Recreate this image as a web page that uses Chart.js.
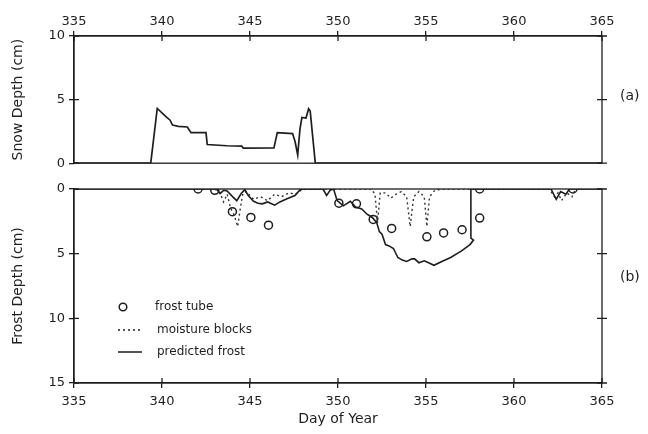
<!DOCTYPE html>
<html>
<head>
<meta charset="utf-8">
<script src="https://cdn.jsdelivr.net/npm/chart.js@4.4.1/dist/chart.umd.min.js"></script>
<style>
  html, body { margin: 0; padding: 0; background: #fff; }
  #wrap { position: relative; width: 648px; height: 434px; }
  #snowChart { position: absolute; left: 0; top: 0; }
  #frostChart { position: absolute; left: 0; top: 175px; }
</style>
</head>
<body>
<div id="wrap">
  <canvas id="snowChart" width="648" height="175"></canvas>
  <canvas id="frostChart" width="648" height="259"></canvas>
</div>
<script>
// day-of-year axis
const dayTicks = [335, 340, 345, 350, 355, 360, 365];

// (a) snow depth, cm
const snowDays  = [335, 339.36, 339.73, 340.27, 340.45, 340.6, 340.93, 341.44, 341.65, 342.5, 342.57, 343.68, 344.53, 344.62, 346.36, 346.55, 347.42, 347.56, 347.71, 347.84, 347.95, 348.18, 348.33, 348.42, 348.71, 365];
const snowDepth = [0, 0, 4.3, 3.6, 3.4, 3.0, 2.9, 2.85, 2.4, 2.4, 1.47, 1.37, 1.34, 1.18, 1.2, 2.4, 2.33, 1.7, 0.65, 2.7, 3.6, 3.55, 4.28, 4.1, 0, 0];

// (b) frost tube observations, cm
const tubeDays  = [342.05, 343.0, 344.0, 345.05, 346.05, 350.05, 351.05, 352.0, 353.05, 355.05, 356.0, 357.05, 358.05, 358.05, 363.35];
const tubeDepth = [0, 0.1, 1.75, 2.2, 2.8, 1.1, 1.15, 2.35, 3.05, 3.7, 3.4, 3.15, 2.25, 0, 0];

// (b) moisture blocks, cm
const blockDays  = [343.0, 343.3, 343.5, 343.7, 343.9, 344.1, 344.3, 344.45, 344.6, 344.8, 345.2, 345.6, 346.0, 346.4, 346.8, 347.2, 347.6, 347.9, 348.2,
                    351.9, 352.1, 352.25, 352.4, 352.7, 353.0, 353.3, 353.6, 353.9, 354.1, 354.3, 354.6, 354.9, 355.05, 355.2, 355.5, 356.0,
                    362.0, 362.3, 362.5, 362.7, 363.0, 363.3, 363.5];
const blockDepth = [0, 0.3, 1.0, 0.4, 1.5, 2.0, 2.9, 1.5, 0.3, 0.2, 0.8, 0.6, 0.9, 0.4, 0.6, 0.3, 0.4, 0.1, 0,
                    0, 0.4, 2.6, 0.3, 0.3, 0.7, 0.4, 0.2, 0.6, 2.9, 0.6, 0.2, 0.6, 2.9, 0.6, 0.1, 0,
                    0, 0.6, 0.3, 0.9, 0.3, 0.6, 0];

// (b) predicted frost, cm
const frostDays  = [335, 343.1, 343.3, 343.5, 343.7, 344.05, 344.25, 344.5, 344.7, 344.9, 345.2, 345.45, 345.7, 346.0, 346.4, 346.7, 347.1, 347.55, 347.85, 348.0,
                    349.15, 349.35, 349.55, 349.75, 349.95, 350.3, 350.7, 351.0, 351.35, 351.65, 351.95, 352.2, 352.35, 352.5, 352.7, 352.9, 353.15, 353.4, 353.65,
                    353.9, 354.2, 354.35, 354.6, 354.9, 355.15, 355.45, 355.9, 356.4, 357.0, 357.5, 357.7, 357.55, 357.55,
                    362.1, 362.4, 362.65, 362.95, 363.15, 365];
const frostDepth = [0, 0, 0.35, 0.1, 0.15, 0.65, 0.9, 0.35, 0.05, 0.5, 0.95, 1.1, 1.15, 1.0, 1.25, 1.0, 0.75, 0.5, 0.05, 0,
                    0, 0.5, 0.1, 0, 0.9, 1.3, 0.95, 1.4, 1.55, 1.95, 2.2, 2.6, 3.3, 3.5, 4.3, 4.4, 4.6, 5.3, 5.5,
                    5.6, 5.4, 5.4, 5.7, 5.55, 5.7, 5.9, 5.6, 5.3, 4.8, 4.3, 3.95, 3.8, 0,
                    0, 0.8, 0.2, 0.4, 0, 0];

const ink = '#1e1e1e';
const fontFamily = '"DejaVu Sans", sans-serif';

function pts(xs, ys) {
  return xs.map((x, i) => ({ x: x, y: ys[i] }));
}

// box round the plot, ticks that cross the frame, panel tag, optional key
const framePlugin = {
  id: 'frame',
  afterDraw(chart, args, opts) {
    const { ctx, chartArea: a, scales } = chart;
    ctx.save();
    ctx.strokeStyle = ink;
    ctx.lineWidth = 1.3;
    ctx.strokeRect(a.left, a.top, a.right - a.left, a.bottom - a.top);

    ctx.beginPath();
    const xs = scales.x;
    const edge = opts.xEdge === 'top' ? a.top : a.bottom;
    const dir = opts.xEdge === 'top' ? 1 : -1;
    xs.ticks.forEach(t => {
      const px = xs.getPixelForValue(t.value);
      ctx.moveTo(px, edge);
      ctx.lineTo(px, edge + dir * 5);
    });
    const ys = scales.y;
    ys.ticks.forEach(t => {
      const py = ys.getPixelForValue(t.value);
      ctx.moveTo(a.left, py);
      ctx.lineTo(a.left + 5, py);
      ctx.moveTo(a.right - 5, py);
      ctx.lineTo(a.right + 5, py);
    });
    ctx.stroke();

    ctx.fillStyle = ink;
    ctx.font = '14px ' + fontFamily;
    ctx.textAlign = 'left';
    ctx.textBaseline = 'middle';
    ctx.fillText(opts.tag, a.right + 18, opts.tagY);

    if (opts.key) {
      const kx = a.left + 44;
      let ky = opts.keyY;
      ctx.font = '12px ' + fontFamily;
      ctx.lineWidth = 1.5;
      // frost tube
      ctx.beginPath();
      ctx.arc(kx + 5, ky, 3.8, 0, Math.PI * 2);
      ctx.stroke();
      ctx.fillText('frost tube', kx + 37, ky);
      // moisture blocks
      ky += 23;
      ctx.setLineDash([2, 3]);
      ctx.beginPath();
      ctx.moveTo(kx, ky);
      ctx.lineTo(kx + 24, ky);
      ctx.stroke();
      ctx.setLineDash([]);
      ctx.fillText('moisture blocks', kx + 39, ky);
      // predicted frost
      ky += 22;
      ctx.beginPath();
      ctx.moveTo(kx, ky);
      ctx.lineTo(kx + 24, ky);
      ctx.stroke();
      ctx.fillText('predicted frost', kx + 39, ky);
    }
    ctx.restore();
  }
};

Chart.defaults.font.family = fontFamily;
Chart.defaults.color = ink;

function xScale(position, withTitle) {
  return {
    type: 'linear',
    position: position,
    min: 335,
    max: 365,
    afterBuildTicks: s => { s.ticks = dayTicks.map(v => ({ value: v })); },
    afterFit: s => { s.height = position === 'top' ? 36 : 51; },
    grid: { drawOnChartArea: false, tickLength: 5, color: ink, lineWidth: 1.3 },
    border: { color: ink, width: 1.3 },
    ticks: { font: { size: 13 }, padding: position === 'top' ? 2 : 6, maxRotation: 0, color: ink },
    title: {
      display: withTitle,
      text: 'Day of Year',
      font: { size: 14 },
      color: ink,
      padding: { top: 0, bottom: 6 }
    }
  };
}

function yScale(max, reverse, label) {
  return {
    type: 'linear',
    min: 0,
    max: max,
    reverse: reverse,
    afterFit: s => { s.width = 74; },
    ticks: { stepSize: 5, font: { size: 13 }, padding: 4, color: ink },
    grid: { drawOnChartArea: false, tickLength: 5, color: ink, lineWidth: 1.3 },
    border: { color: ink, width: 1.3 },
    title: {
      display: true,
      text: label,
      font: { size: 14 },
      color: ink,
      padding: { top: 10, bottom: 0 }
    }
  };
}

new Chart(document.getElementById('snowChart'), {
  type: 'line',
  data: {
    datasets: [{
      label: 'snow depth',
      data: pts(snowDays, snowDepth),
      borderColor: ink,
      borderWidth: 1.7,
      pointRadius: 0,
      tension: 0
    }]
  },
  options: {
    responsive: false,
    animation: false,
    layout: { padding: { left: 0, right: 46, top: 0, bottom: 10 } },
    plugins: {
      legend: { display: false },
      tooltip: { enabled: false },
      frame: { tag: '(a)', tagY: 96, xEdge: 'top' }
    },
    scales: {
      x: xScale('top', false),
      y: yScale(10, false, 'Snow Depth (cm)')
    }
  },
  plugins: [framePlugin]
});

new Chart(document.getElementById('frostChart'), {
  type: 'line',
  data: {
    datasets: [
      {
        label: 'predicted frost',
        data: pts(frostDays, frostDepth),
        borderColor: ink,
        borderWidth: 1.6,
        pointRadius: 0,
        tension: 0
      },
      {
        label: 'moisture blocks',
        data: pts(blockDays, blockDepth),
        borderColor: '#333',
        borderWidth: 1.4,
        borderDash: [2, 3],
        pointRadius: 0,
        tension: 0
      },
      {
        label: 'frost tube',
        data: pts(tubeDays, tubeDepth),
        showLine: false,
        pointRadius: 4,
        pointBorderWidth: 1.5,
        pointBorderColor: ink,
        pointBackgroundColor: '#fff'
      }
    ]
  },
  options: {
    responsive: false,
    animation: false,
    layout: { padding: { left: 0, right: 46, top: 14, bottom: 0 } },
    plugins: {
      legend: { display: false },
      tooltip: { enabled: false },
      frame: { tag: '(b)', tagY: 102, xEdge: 'bottom', key: true, keyY: 132 }
    },
    scales: {
      x: xScale('bottom', true),
      y: yScale(15, true, 'Frost Depth (cm)')
    }
  },
  plugins: [framePlugin]
});
</script>
</body>
</html>
